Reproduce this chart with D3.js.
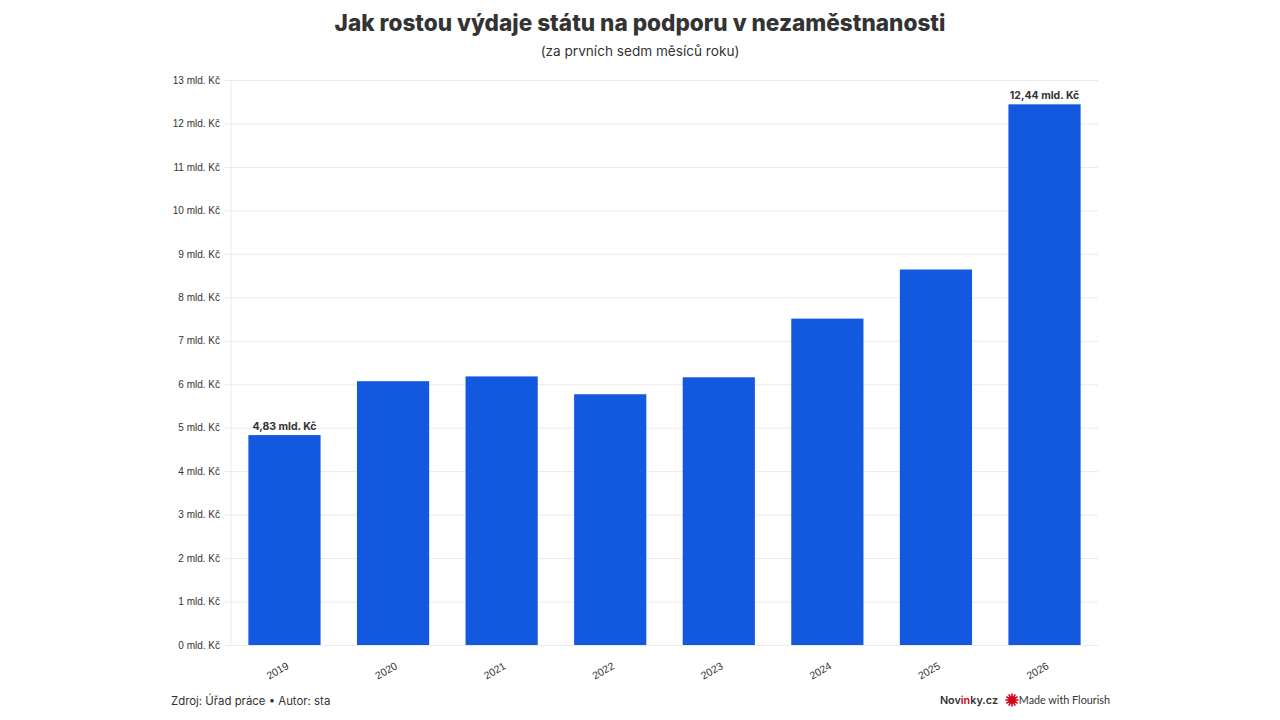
<!DOCTYPE html>
<html>
<head>
<meta charset="utf-8">
<script src="https://cdn.jsdelivr.net/npm/d3@7"></script>
<style>
    body { margin: 0; background: #fff; font-family: Inter, "Noto Sans", sans-serif; }
    .title { font-size: 22.6px; font-weight: 800; fill: #333; }
    .subtitle { font-size: 13.6px; fill: #333; }
    .tick text { font-size: 10px; fill: #333; }
    .footer { font-size: 11.4px; fill: #333; }
    .bar--label { font-size: 10.5px; font-weight: 700; fill: #333; }
</style>
</head>
<body>
<div id="chart"></div>
<script>
const years = ["2019", "2020", "2021", "2022", "2023", "2024", "2025", "2026"];
const spending = [4.83, 6.07, 6.18, 5.77, 6.16, 7.51, 8.64, 12.44];
const yTicks = [0, 1, 2, 3, 4, 5, 6, 7, 8, 9, 10, 11, 12, 13];
const labelled = ["2019", "2026"];

const width = 1280;
const height = 720;
const margin = {top: 80, left: 231, right: 182, bottom: 75};

const data = years.map((d, i) => ({year: d, value: spending[i]}));
const fmt = v => String(v).replace(".", ",") + " mld. Kč";

const svg = d3.select("#chart")
    .append("svg")
    .attr("width", width)
    .attr("height", height);

const xScale = d3.scaleBand()
    .domain(years)
    .range([margin.left, width - margin.right])
    .paddingInner(0.335)
    .paddingOuter(0.16);

const yScale = d3.scaleLinear()
    .domain([0, 13])
    .range([height - margin.bottom, margin.top]);

// Title
svg.append("text")
    .attr("class", "title")
    .attr("x", width / 2)
    .attr("y", 31)
    .attr("text-anchor", "middle")
    .text("Jak rostou výdaje státu na podporu v nezaměstnanosti");

svg.append("text")
    .attr("class", "subtitle")
    .attr("x", width / 2)
    .attr("y", 56)
    .attr("text-anchor", "middle")
    .text("(za prvních sedm měsíců roku)");

// y axis with gridlines
const yAxis = svg.append("g")
    .attr("transform", `translate(${margin.left},0)`)
    .call(d3.axisLeft(yScale)
        .tickValues(yTicks)
        .tickSize(-(width - margin.left - margin.right))
        .tickPadding(11)
        .tickFormat(d => d + " mld. Kč"));

yAxis.select(".domain").remove();
yAxis.selectAll(".tick line")
    .attr("x1", -7)
    .attr("stroke", "#ebebeb");

svg.append("line")
    .attr("x1", margin.left)
    .attr("x2", margin.left)
    .attr("y1", margin.top)
    .attr("y2", height - margin.bottom)
    .attr("stroke", "#ebebeb");

// x axis
const xAxis = svg.append("g")
    .attr("transform", `translate(0,${height - margin.bottom})`)
    .call(d3.axisBottom(xScale).tickSize(0).tickPadding(0));

xAxis.select(".domain").attr("stroke", "#ebebeb");
xAxis.selectAll(".tick text")
    .attr("text-anchor", "end")
    .attr("dy", 0)
    .style("font-size", "10.5px")
    .attr("transform", "translate(5,23) rotate(-30)");

// bars
svg.selectAll("rect.bar")
    .data(data)
    .enter()
    .append("rect")
        .attr("class", "bar")
        .attr("x", d => xScale(d.year))
        .attr("y", d => yScale(d.value))
        .attr("width", xScale.bandwidth())
        .attr("height", d => yScale(0) - yScale(d.value))
        .attr("fill", "#1359e0");

svg.selectAll("text.bar--label")
    .data(data.filter(d => labelled.includes(d.year)))
    .enter()
    .append("text")
        .attr("class", "bar--label")
        .attr("x", d => xScale(d.year) + xScale.bandwidth() / 2)
        .attr("y", d => yScale(d.value) - 5)
        .attr("text-anchor", "middle")
        .text(d => fmt(d.value));

// footer
svg.append("text")
    .attr("class", "footer")
    .attr("x", 171)
    .attr("y", 705)
    .text("Zdroj: Úřad práce • Autor: sta");

const brand = svg.append("text")
    .attr("x", 998)
    .attr("y", 704)
    .attr("text-anchor", "end")
    .attr("font-size", 10.8)
    .attr("font-weight", 600)
    .attr("fill", "#333");
brand.append("tspan").text("Nov");
brand.append("tspan").attr("fill", "#d0021b").text("in");
brand.append("tspan").text("ky.cz");

const flourish = svg.append("g").attr("transform", "translate(1012,700)");
d3.range(12).forEach(i => {
    const a = i * Math.PI / 6;
    flourish.append("line")
        .attr("x1", 0).attr("y1", 0)
        .attr("x2", Math.cos(a) * 6.5).attr("y2", Math.sin(a) * 6.5)
        .attr("stroke", "#d0021b")
        .attr("stroke-width", 1.6);
});
flourish.append("circle").attr("r", 3.5).attr("fill", "#d0021b");

svg.append("text")
    .attr("x", 1110)
    .attr("y", 704)
    .attr("text-anchor", "end")
    .attr("font-size", 10.8)
    .attr("font-family", "Lato, sans-serif")
    .attr("fill", "#333")
    .text("Made with Flourish");
</script>
</body>
</html>
